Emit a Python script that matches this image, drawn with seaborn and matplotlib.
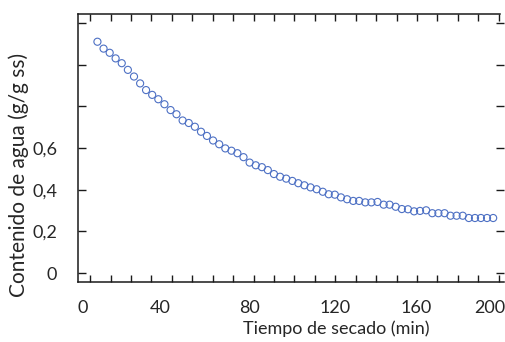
import matplotlib
matplotlib.use("Agg")
import matplotlib.pyplot as plt
import matplotlib.transforms as mtransforms
import seaborn as sns
import pandas as pd

# tiempo de secado (min) y contenido de agua (g/g ss)
tiempo = [3.6, 6.6, 9.6, 12.5, 15.5, 18.5, 21.5, 24.5, 27.4, 30.4,
          33.4, 36.4, 39.4, 42.3, 45.3, 48.3, 51.3, 54.3, 57.2, 60.2,
          63.2, 66.2, 69.2, 72.1, 75.1, 78.1, 81.1, 84.1, 87.0, 90.0,
          93.0, 96.0, 99.0, 101.9, 104.9, 107.9, 110.9, 113.9, 116.8, 119.8,
          122.8, 125.8, 128.8, 131.7, 134.7, 137.7, 140.7, 143.7, 146.6, 149.6,
          152.6, 155.6, 158.6, 161.5, 164.5, 167.5, 170.5, 173.5, 176.4, 179.4,
          182.4, 185.4, 188.4, 191.3, 194.3, 197.3]
humedad = [1.110, 1.077, 1.057, 1.030, 1.007, 0.975, 0.943, 0.910, 0.878, 0.855,
           0.834, 0.810, 0.782, 0.762, 0.732, 0.720, 0.702, 0.678, 0.658, 0.636,
           0.618, 0.598, 0.587, 0.575, 0.556, 0.530, 0.517, 0.508, 0.494, 0.475,
           0.462, 0.453, 0.442, 0.431, 0.421, 0.411, 0.402, 0.390, 0.378, 0.376,
           0.363, 0.354, 0.346, 0.346, 0.339, 0.339, 0.341, 0.328, 0.328, 0.318,
           0.307, 0.306, 0.296, 0.298, 0.301, 0.287, 0.287, 0.287, 0.275, 0.275,
           0.275, 0.264, 0.264, 0.264, 0.264, 0.264]

xticks = [0, 40, 80, 120, 160, 200]
xticks_minor = [10, 20, 30, 50, 60, 70, 90, 100, 110, 130, 140, 150, 170, 180, 190]
yticks = [0, 0.2, 0.4, 0.6, 0.8, 1.0, 1.2]
ytick_labels = ["0", "0,2", "0,4", "0,6", "", "", ""]

sns.set_style("ticks")
plt.rcParams["font.family"] = ["Lato", "DejaVu Sans"]

df = pd.DataFrame({"t": tiempo, "w": humedad})

fig = plt.figure(figsize=(5.05, 3.42), dpi=100)
ax = fig.add_axes([0.1545, 0.1754, 0.8435, 0.7836])

sns.scatterplot(data=df, x="t", y="w", ax=ax, marker="o", s=26,
                facecolor="none", edgecolor="#4d70c4", linewidth=0.8)

ax.set_xlim(-5.9, 202.6)
ax.set_ylim(-0.0432, 1.243)

ax.set_xticks(xticks)
ax.set_xticks(xticks_minor, minor=True)
ax.set_xticklabels([str(v) for v in xticks])
ax.set_yticks(yticks)
ax.set_yticklabels(ytick_labels)

for s in ["left", "bottom", "top"]:
    ax.spines[s].set_visible(True)
    ax.spines[s].set_linewidth(1.1)
    ax.spines[s].set_color("#1a1a1a")
ax.spines["right"].set_visible(False)
ax.spines["top"].set_bounds(-5.9, 200.5)

ax.tick_params(axis="y", which="both", direction="in", left=True, right=True,
               length=6, width=1, color="#1a1a1a", labelsize=13, pad=15)
ax.tick_params(axis="x", which="both", direction="in", bottom=True, top=True,
               length=4.8, width=1, color="#1a1a1a", labelsize=13, pad=13)

# the x labels in the original sit a little left of their ticks
shifts = [-7, -12, -4, 0, -1, -9]
for lab, dx in zip(ax.get_xticklabels(), shifts):
    lab.set_transform(lab.get_transform() +
                      mtransforms.ScaledTranslation(dx / 100, 0, fig.dpi_scale_trans))

ax.set_xlabel("Tiempo de secado (min)", fontsize=13)
ax.set_ylabel("Contenido de agua (g/g ss)", fontsize=15)
ax.xaxis.set_label_coords(0.606, -0.142)
ax.yaxis.set_label_coords(-0.115, 0.40)

fig.savefig("out.png", dpi=100)
